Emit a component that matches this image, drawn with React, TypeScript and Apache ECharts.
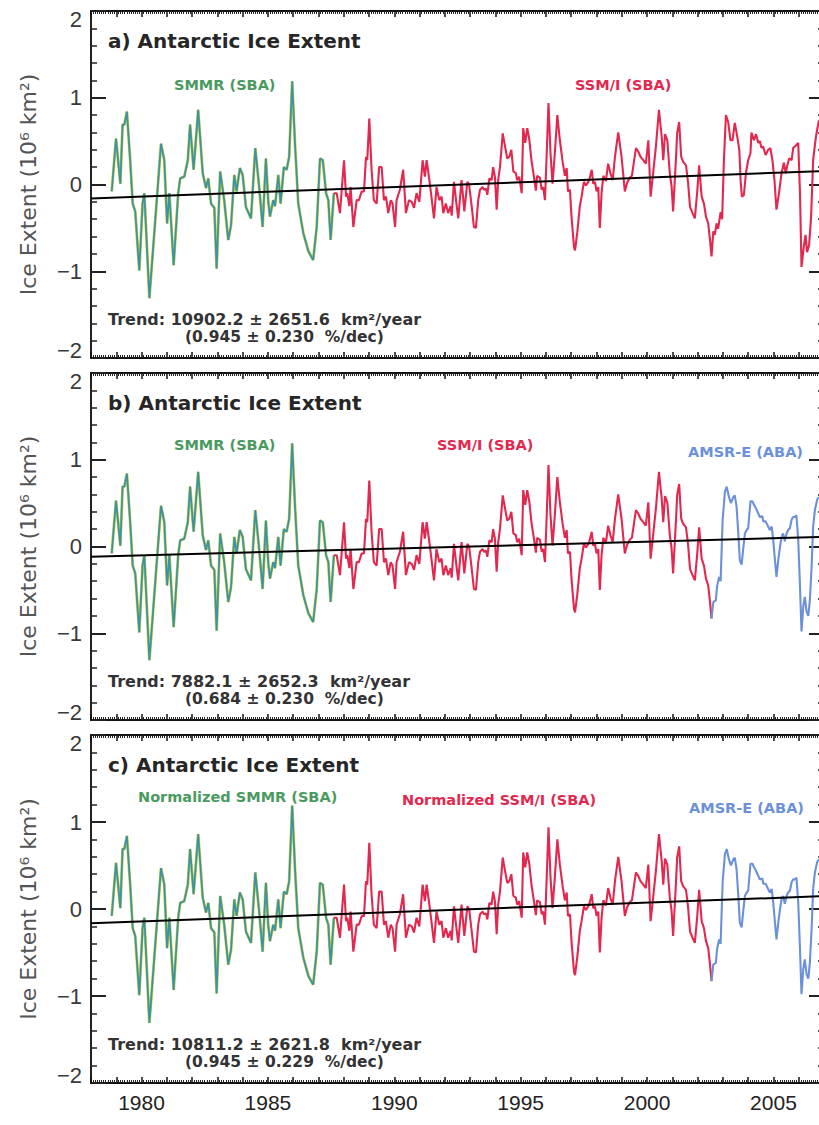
import React, { useEffect, useRef } from "react";
import * as echarts from "echarts";

// SMMR (SBA) monthly anomalies [decimal year, 10^6 km^2]
const smmr: [number, number][] = [
  [1978.82, -0.08], [1978.99, 0.53], [1979.16, 0.01], [1979.25, 0.69], [1979.32, 0.69], [1979.42, 0.84],
  [1979.55, 0.28], [1979.65, -0.22], [1979.75, -0.31], [1979.91, -0.99], [1980.04, -0.22], [1980.11, -0.10],
  [1980.31, -1.31], [1980.77, 0.47], [1980.90, 0.28], [1981.01, -0.45], [1981.10, -0.10], [1981.27, -0.93],
  [1981.45, -0.10], [1981.53, 0.07], [1981.69, 0.09], [1981.83, 0.28], [1981.92, 0.69], [1982.06, 0.17],
  [1982.24, 0.86], [1982.42, 0.13], [1982.55, -0.04], [1982.64, 0.07], [1982.75, -0.22], [1982.88, -0.27],
  [1982.97, -0.97], [1983.11, 0.15], [1983.27, -0.18], [1983.43, -0.64], [1983.54, -0.47], [1983.67, 0.11],
  [1983.76, -0.08], [1983.89, 0.19], [1984.00, 0.11], [1984.13, -0.26], [1984.33, -0.39], [1984.50, 0.42],
  [1984.66, -0.05], [1984.79, -0.49], [1984.92, 0.30], [1985.01, -0.18], [1985.08, -0.37], [1985.21, -0.18],
  [1985.28, -0.25], [1985.41, 0.11], [1985.50, -0.22], [1985.63, 0.20], [1985.74, 0.17], [1985.84, 0.32],
  [1985.96, 1.19], [1986.07, 0.47], [1986.20, -0.22], [1986.40, -0.56], [1986.60, -0.77], [1986.79, -0.87],
  [1986.93, -0.49], [1987.06, 0.30], [1987.17, 0.28], [1987.30, -0.10], [1987.39, -0.18], [1987.48, -0.64],
  [1987.61, -0.10],
];

// SSM/I (SBA) monthly anomalies
const ssmi: [number, number][] = [
  [1987.61, -0.10], [1987.72, -0.10], [1987.85, -0.33], [1988.01, 0.28], [1988.09, -0.14], [1988.14, -0.10],
  [1988.22, -0.25], [1988.27, -0.03], [1988.38, -0.49], [1988.51, -0.18], [1988.60, -0.18], [1988.71, -0.08],
  [1988.80, -0.08], [1988.88, 0.32], [1988.93, 0.28], [1989.01, 0.76], [1989.10, 0.17], [1989.19, -0.18],
  [1989.30, -0.22], [1989.40, 0.20], [1989.50, 0.20], [1989.59, -0.18], [1989.67, -0.14], [1989.76, -0.33],
  [1989.86, -0.18], [1989.93, -0.22], [1990.03, -0.49], [1990.09, -0.18], [1990.22, -0.06], [1990.35, 0.17],
  [1990.46, -0.33], [1990.58, -0.18], [1990.69, -0.20], [1990.78, -0.27], [1990.88, -0.10], [1990.99, -0.20],
  [1991.12, 0.28], [1991.21, 0.09], [1991.28, 0.28], [1991.41, 0.00], [1991.57, -0.39], [1991.67, -0.03],
  [1991.78, -0.18], [1991.87, -0.14], [1991.94, -0.33], [1992.04, -0.22], [1992.13, -0.33], [1992.23, -0.25],
  [1992.27, -0.36], [1992.36, 0.03], [1992.47, -0.25], [1992.53, -0.39], [1992.66, 0.05], [1992.77, -0.31],
  [1992.89, 0.03], [1992.96, 0.00], [1993.06, -0.25], [1993.15, -0.49], [1993.23, -0.50], [1993.32, -0.18],
  [1993.39, -0.06], [1993.49, -0.03], [1993.55, -0.06], [1993.63, -0.05], [1993.68, -0.12], [1993.76, 0.07],
  [1993.85, 0.05], [1993.91, 0.20], [1993.98, 0.09], [1994.05, -0.29], [1994.11, 0.05], [1994.18, 0.20],
  [1994.29, 0.59], [1994.38, 0.44], [1994.47, 0.30], [1994.55, 0.32], [1994.63, 0.40], [1994.71, 0.15],
  [1994.81, 0.13], [1994.86, 0.05], [1994.94, 0.09], [1995.04, -0.10], [1995.10, 0.65], [1995.18, 0.48],
  [1995.26, 0.65], [1995.34, 0.52], [1995.43, 0.27], [1995.52, 0.10], [1995.60, -0.07], [1995.65, 0.10],
  [1995.76, 0.08], [1995.83, -0.06], [1995.89, -0.03], [1995.96, -0.18], [1996.02, 0.28], [1996.10, 0.94],
  [1996.18, 0.36], [1996.26, 0.01], [1996.35, 0.36], [1996.45, 0.80], [1996.55, 0.51], [1996.66, 0.26],
  [1996.75, 0.10], [1996.82, 0.19], [1996.87, -0.08], [1996.95, -0.06], [1997.01, -0.37], [1997.11, -0.72],
  [1997.15, -0.76], [1997.24, -0.55], [1997.34, -0.25], [1997.41, -0.14], [1997.50, 0.03], [1997.58, -0.01],
  [1997.63, 0.01], [1997.71, 0.05], [1997.81, 0.17], [1997.87, 0.01], [1997.94, 0.03], [1998.00, -0.08],
  [1998.07, -0.03], [1998.13, -0.50], [1998.20, -0.10], [1998.27, 0.10], [1998.37, 0.04], [1998.46, 0.24],
  [1998.56, 0.12], [1998.64, 0.05], [1998.73, 0.32], [1998.86, 0.60], [1998.99, 0.32], [1999.12, -0.08],
  [1999.21, 0.02], [1999.32, 0.08], [1999.40, 0.10], [1999.48, 0.26], [1999.56, 0.42], [1999.65, 0.38],
  [1999.74, 0.32], [1999.85, 0.28], [1999.95, 0.24], [2000.05, 0.51], [2000.14, -0.14], [2000.24, 0.13],
  [2000.35, 0.44], [2000.47, 0.86], [2000.58, 0.55], [2000.64, 0.28], [2000.71, 0.58], [2000.80, 0.51],
  [2000.90, 0.13], [2000.97, -0.02], [2001.03, -0.31], [2001.14, 0.28], [2001.19, 0.59], [2001.27, 0.72],
  [2001.35, 0.32], [2001.43, 0.26], [2001.54, 0.22], [2001.62, 0.03], [2001.70, -0.26], [2001.80, -0.33],
  [2001.89, -0.39], [2001.98, -0.10], [2002.06, 0.22], [2002.16, -0.14], [2002.25, -0.22], [2002.33, -0.37],
  [2002.42, -0.45], [2002.49, -0.64], [2002.55, -0.83], [2002.62, -0.54], [2002.68, -0.58], [2002.75, -0.45],
  [2002.81, -0.51], [2002.91, -0.32], [2002.97, -0.40], [2003.04, 0.28], [2003.12, 0.80], [2003.21, 0.72],
  [2003.30, 0.51], [2003.38, 0.51], [2003.47, 0.71], [2003.57, 0.55], [2003.65, 0.40], [2003.70, 0.05],
  [2003.75, -0.14], [2003.83, -0.12], [2003.91, 0.13], [2004.00, 0.28], [2004.09, 0.36], [2004.13, 0.60],
  [2004.23, 0.51], [2004.31, 0.58], [2004.40, 0.48], [2004.46, 0.50], [2004.53, 0.42], [2004.59, 0.44],
  [2004.69, 0.34], [2004.79, 0.40], [2004.88, 0.42], [2004.96, 0.28], [2005.04, 0.05], [2005.12, -0.29],
  [2005.22, -0.10], [2005.32, 0.13], [2005.41, 0.25], [2005.49, 0.13], [2005.54, 0.21], [2005.62, 0.30],
  [2005.72, 0.28], [2005.78, 0.42], [2005.89, 0.45], [2005.98, 0.48], [2006.05, -0.10], [2006.11, -0.95],
  [2006.20, -0.72], [2006.27, -0.58], [2006.33, -0.78], [2006.41, -0.70], [2006.49, -0.37], [2006.57, 0.28],
  [2006.68, 0.55], [2006.80, 0.74],
];

// AMSR-E (ABA) monthly anomalies
const amsr: [number, number][] = [
  [2002.55, -0.83], [2002.62, -0.64], [2002.72, -0.62], [2002.77, -0.46], [2002.85, -0.35], [2002.91, -0.40],
  [2002.99, 0.31], [2003.08, 0.63], [2003.15, 0.69], [2003.24, 0.57], [2003.32, 0.50], [2003.41, 0.57],
  [2003.47, 0.59], [2003.54, 0.46], [2003.61, 0.15], [2003.67, -0.16], [2003.74, -0.21], [2003.80, -0.04],
  [2003.87, 0.15], [2003.94, 0.19], [2004.00, 0.21], [2004.09, 0.52], [2004.17, 0.52], [2004.23, 0.48],
  [2004.31, 0.44], [2004.40, 0.38], [2004.46, 0.34], [2004.56, 0.35], [2004.60, 0.29], [2004.69, 0.29],
  [2004.79, 0.23], [2004.86, 0.19], [2004.93, 0.23], [2004.99, 0.08], [2005.06, -0.16], [2005.12, -0.35],
  [2005.19, -0.16], [2005.26, 0.00], [2005.32, 0.11], [2005.38, 0.15], [2005.45, 0.06], [2005.52, 0.15],
  [2005.58, 0.19], [2005.65, 0.21], [2005.72, 0.31], [2005.78, 0.34], [2005.85, 0.34], [2005.91, 0.36],
  [2005.98, 0.08], [2006.05, -0.46], [2006.11, -0.98], [2006.18, -0.69], [2006.24, -0.58], [2006.31, -0.75],
  [2006.38, -0.80], [2006.44, -0.62], [2006.51, -0.23], [2006.57, 0.23], [2006.64, 0.42], [2006.73, 0.54],
  [2006.80, 0.57],
];

const ssmiEndB = 2002.56; // last SSM/I month before AMSR-E in panels b, c

// Trend lines [start at 1978, end at 2007]
const trendA = [-0.16, 0.156];
const trendB = [-0.118, 0.111];
const trendC = [-0.165, 0.148];

const panelTitles = ["a) Antarctic Ice Extent", "b) Antarctic Ice Extent", "c) Antarctic Ice Extent"];
const trendLine1 = [
  "Trend: 10902.2 ± 2651.6  km²/year",
  "Trend: 7882.1 ± 2652.3  km²/year",
  "Trend: 10811.2 ± 2621.8  km²/year",
];
const trendLine2 = ["(0.945 ± 0.230  %/dec)", "(0.684 ± 0.230  %/dec)", "(0.945 ± 0.229  %/dec)"];
const yTicks = [-2, -1, 0, 1, 2];
const xMin = 1978;
const xMax = 2007;

const GREEN_TXT = "#4a9a60";
const RED = "#e3284f";
const BLUE = "#6c90da";

export default function App() {
  const ref = useRef<HTMLDivElement>(null);
  useEffect(() => {
    if (!ref.current) return;
    const chart = echarts.init(ref.current, undefined, { renderer: "svg" });
    const grids = [
      { left: 91, width: 733, top: 11, height: 347 },
      { left: 91, width: 733, top: 373, height: 347 },
      { left: 91, width: 733, top: 735, height: 348 },
    ];
    const xAxes: any[] = [];
    const yAxes: any[] = [];
    const series: any[] = [];
    const trends = [trendA, trendB, trendC];
    grids.forEach((g, i) => {
      const isLast = i === 2;
      ["bottom", "top"].forEach((pos) => {
        xAxes.push({
          type: "value",
          gridIndex: i,
          position: pos,
          min: xMin,
          max: xMax,
          interval: 1,
          axisLine: { show: true, onZero: false, lineStyle: { color: "#111", width: 2 } },
          axisTick: { show: true, inside: true, length: 6, lineStyle: { color: "#111", width: 1.5 } },
          minorTick: { show: true, splitNumber: 12, length: 3, lineStyle: { color: "#222", width: 1 } },
          splitLine: { show: false },
          axisLabel: {
            show: isLast && pos === "bottom",
            fontSize: 21,
            fontFamily: "Liberation Sans",
            color: "#222",
            margin: 9,
            formatter: (v: number) => (Math.round(v) % 5 === 0 ? String(Math.round(v)) : ""),
          },
        });
      });
      ["left", "right"].forEach((pos) => {
        yAxes.push({
          type: "value",
          gridIndex: i,
          position: pos,
          min: -2,
          max: 2,
          interval: 1,
          name: pos === "left" ? "Ice Extent (10⁶ km²)" : "",
          nameLocation: "middle",
          nameGap: 52,
          nameRotate: 90,
          nameTextStyle: { fontSize: 22, fontFamily: "DejaVu Sans", color: "#555" },
          axisLine: { show: true, onZero: false, lineStyle: { color: "#222", width: 2 } },
          axisTick: { show: true, inside: true, length: 15, lineStyle: { color: "#222", width: 2 } },
          minorTick: { show: true, splitNumber: 5, length: 6, lineStyle: { color: "#222", width: 1.5 } },
          splitLine: { show: false },
          axisLabel: {
            show: pos === "left",
            fontSize: 22,
            lineHeight: 16,
            fontFamily: "Liberation Sans",
            color: "#3a3a3a",
            margin: 9,
            verticalAlignMinLabel: "bottom",
            verticalAlignMaxLabel: "top",
            formatter: (v: number) => (yTicks.includes(v) ? (v < 0 ? "−" + Math.abs(v) : String(v)) : ""),
          },
        });
      });
      const xi = i * 2;
      const yi = i * 2;
      const base = { type: "line", xAxisIndex: xi, yAxisIndex: yi, showSymbol: false, symbol: "none", silent: true };
      series.push({ ...base, data: smmr, lineStyle: { color: "#d2cf3c", width: 2.9 } });
      series.push({ ...base, data: smmr, lineStyle: { color: "#3a94a6", width: 1.8 } });
      if (i === 0) {
        series.push({ ...base, data: ssmi, lineStyle: { color: RED, width: 2.1 } });
      } else {
        series.push({ ...base, data: ssmi.filter((p) => p[0] <= ssmiEndB), lineStyle: { color: RED, width: 2.1 } });
        series.push({ ...base, data: amsr, lineStyle: { color: BLUE, width: 2.1 } });
      }
      series.push({
        ...base,
        data: [
          [xMin, trends[i][0]],
          [xMax, trends[i][1]],
        ],
        lineStyle: { color: "#000", width: 2 },
        z: 5,
      });
    });

    const text = (x: number, y: number, t: string, size: number, fill: string, bold = false, family = "DejaVu Sans") => ({
      type: "text",
      x,
      y,
      style: {
        text: t,
        fontSize: size,
        fontFamily: family,
        fontWeight: bold ? "bold" : "normal",
        fill,
        textVerticalAlign: "middle",
        verticalAlign: "middle",
      },
      z: 10,
    });
    const tops = [11, 373, 735];
    const bottoms = [358, 720, 1083];
    const graphics: any[] = [];
    tops.forEach((t, i) => {
      graphics.push(text(108, t + 30, panelTitles[i], 20, "#262626", true));
      graphics.push(text(108, bottoms[i] - 38.5, trendLine1[i], 16, "#333", true));
      graphics.push(text(185, bottoms[i] - 21.5, trendLine2[i], 15.5, "#333", true));
    });
    graphics.push(text(174, 85, "SMMR (SBA)", 14.5, GREEN_TXT, true));
    graphics.push(text(575, 85, "SSM/I (SBA)", 14.5, RED, true));
    graphics.push(text(174, 445, "SMMR (SBA)", 14.5, GREEN_TXT, true));
    graphics.push(text(437, 445, "SSM/I (SBA)", 14.5, RED, true));
    graphics.push(text(688, 452, "AMSR-E (ABA)", 14.5, BLUE, true));
    graphics.push(text(138, 797, "Normalized SMMR (SBA)", 14.5, GREEN_TXT, true));
    graphics.push(text(402, 800, "Normalized SSM/I (SBA)", 14.5, RED, true));
    graphics.push(text(689, 808, "AMSR-E (ABA)", 14.5, BLUE, true));

    chart.setOption({
      animation: false,
      backgroundColor: "#ffffff",
      grid: grids,
      xAxis: xAxes,
      yAxis: yAxes,
      series,
      graphic: graphics,
    });
    return () => chart.dispose();
  }, []);
  return (
    <div style={{ position: "absolute", left: 0, top: 0, width: 819, height: 1125, overflow: "hidden", background: "#fff" }}>
      <div ref={ref} style={{ width: 830, height: 1125 }} />
    </div>
  );
}
